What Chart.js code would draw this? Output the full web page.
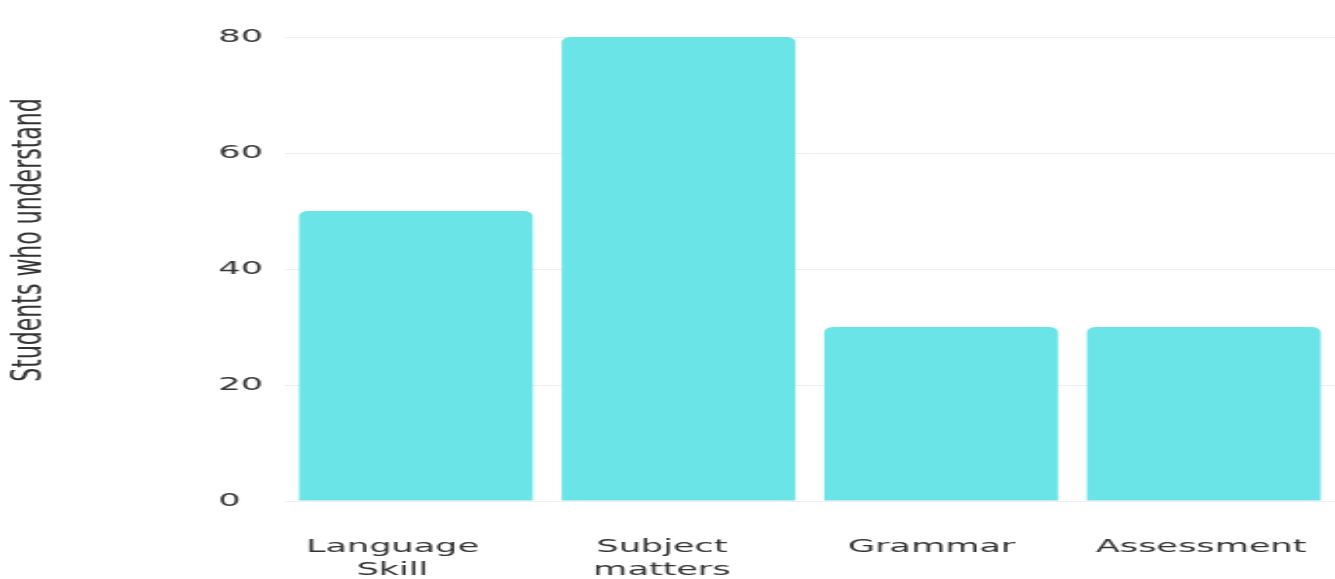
<!DOCTYPE html>
<html>
<head>
<meta charset="utf-8">
<script src="https://cdn.jsdelivr.net/npm/chart.js@4"></script>
<style>
  html, body { margin: 0; padding: 0; background: #ffffff; overflow: hidden; }
  #wrap { width: 685px; height: 579px; transform: scale(1.949, 1); transform-origin: 0 0; }
</style>
</head>
<body>
<div id="wrap"><canvas id="chart" width="685" height="579"></canvas></div>
<script>
const categories = [["Language", "Skill"], ["Subject", "matters"], "Grammar", "Assessment"];
const understanding = [50, 80, 30, 30];
const yTicks = [0, 20, 40, 60, 80];
const yTitle = "Students who understand";

// Vertical axis caption, drawn to the left of the tick labels
const sideTitle = {
  id: 'sideTitle',
  afterDraw(chart) {
    const ctx = chart.ctx;
    ctx.save();
    ctx.translate(15, 240);
    ctx.rotate(-Math.PI / 2);
    ctx.font = '22px "DejaVu Sans"';
    ctx.fillStyle = '#333333';
    ctx.textAlign = 'center';
    ctx.textBaseline = 'middle';
    ctx.fillText(yTitle, 0, 0);
    ctx.restore();
  }
};

new Chart(document.getElementById('chart'), {
  type: 'bar',
  data: {
    labels: categories,
    datasets: [{
      data: understanding,
      xAxisID: 'x',
      backgroundColor: '#6ae4e7',
      borderWidth: 0,
      borderRadius: { topLeft: 5, topRight: 5, bottomLeft: 0, bottomRight: 0 },
      borderSkipped: 'start',
      barPercentage: 0.89,
      categoryPercentage: 1.0
    }]
  },
  options: {
    responsive: false,
    animation: false,
    devicePixelRatio: 1,
    layout: { padding: { left: 112, top: 37, right: 0, bottom: 0 } },
    plugins: { legend: { display: false }, tooltip: { enabled: false } },
    scales: {
      // category axis that places the bars
      x: {
        position: 'bottom',
        afterFit(scale) {
          scale.height = 0;
          scale.paddingLeft = 0;
          scale.paddingRight = 0;
        },
        grid: { display: false },
        border: { display: false },
        ticks: { display: false }
      },
      // axis carrying the category names under the bars
      xLabels: {
        type: 'linear',
        position: 'bottom',
        offset: false,
        min: -0.4,
        max: 3.497,
        afterBuildTicks(scale) { scale.ticks = categories.map((c, i) => ({ value: i })); },
        afterFit(scale) {
          scale.height = 78;
          scale.paddingLeft = 0;
          scale.paddingRight = 0;
        },
        grid: { display: false, offset: false },
        border: { display: false },
        ticks: {
          callback: (v) => categories[v],
          color: '#333333',
          padding: 27,
          maxRotation: 0,
          autoSkip: false,
          font: { family: '"DejaVu Sans"', size: 18, lineHeight: 1.28 }
        }
      },
      y: {
        min: 0,
        max: 80,
        afterBuildTicks(scale) { scale.ticks = yTicks.map(v => ({ value: v })); },
        afterFit(scale) {
          scale.width = 34;
          scale.paddingTop = 0;
          scale.paddingBottom = 0;
        },
        grid: { color: '#f0f0f0', drawTicks: false, lineWidth: 1 },
        border: { display: false },
        ticks: {
          color: '#333333',
          padding: 11,
          crossAlign: 'far',
          font: { family: '"DejaVu Sans"', size: 18 }
        }
      }
    }
  },
  plugins: [sideTitle]
});
</script>
</body>
</html>
